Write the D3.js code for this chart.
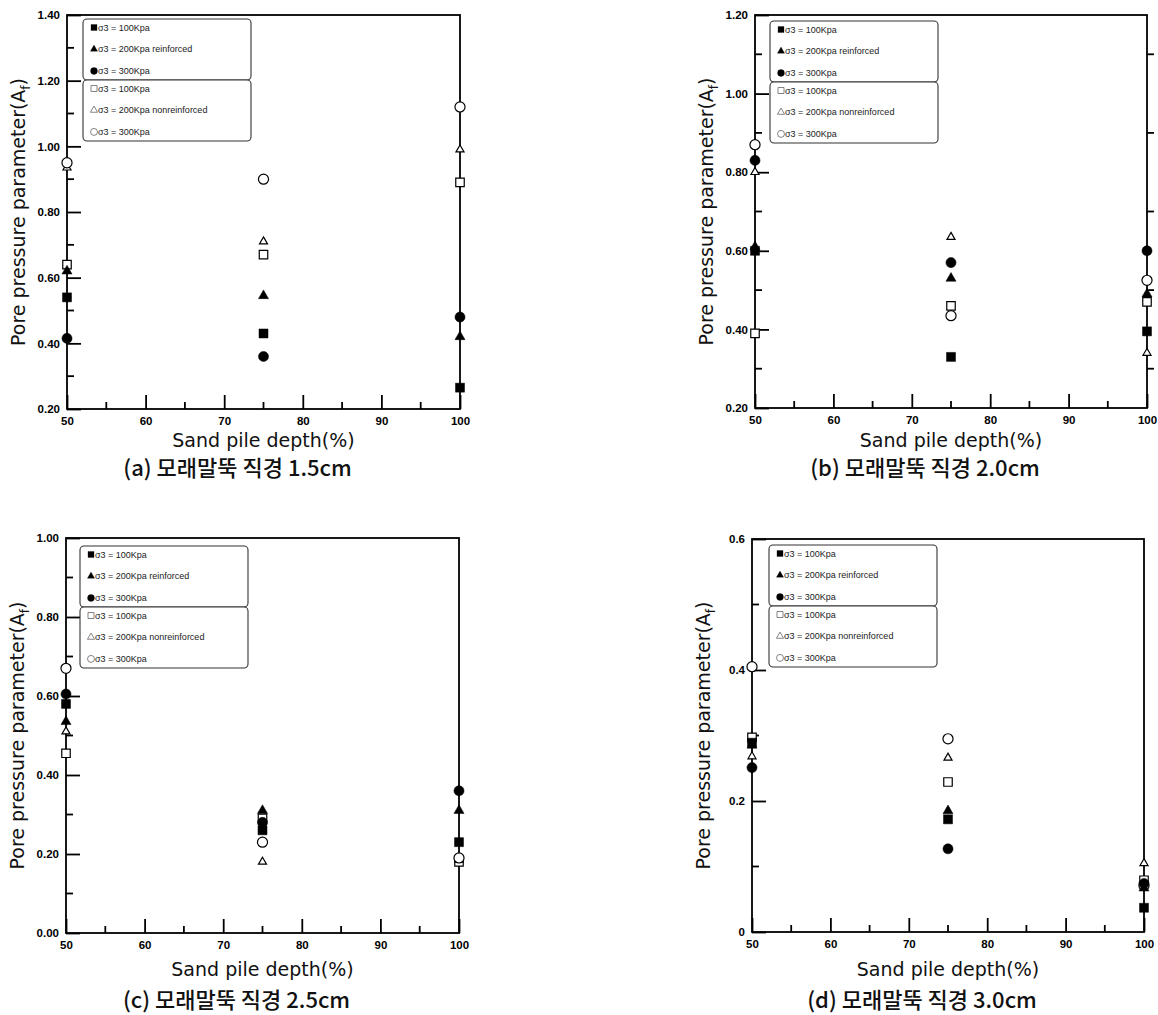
<!DOCTYPE html>
<html>
<head>
<meta charset="utf-8">
<script src="https://cdn.jsdelivr.net/npm/d3@7"></script>
<style>
  body { margin: 0; background: #fff; }
  svg { display: block; }
</style>
</head>
<body>
<div id="content"></div>
<script>
// x positions (sand pile depth %)
var depths = [50, 75, 100];

// legend labels, filled = reinforced, open = nonreinforced
var seriesNames = [
    "σ3 = 100Kpa",
    "σ3 = 200Kpa reinforced",
    "σ3 = 300Kpa",
    "σ3 = 100Kpa",
    "σ3 = 200Kpa nonreinforced",
    "σ3 = 300Kpa"
];
var seriesShapes = ["square", "triangle", "circle", "square", "triangle", "circle"];
var seriesFilled = [true, true, true, false, false, false];

var captions = [
    "(a) 모래말뚝 직경 1.5cm",
    "(b) 모래말뚝 직경 2.0cm",
    "(c) 모래말뚝 직경 2.5cm",
    "(d) 모래말뚝 직경 3.0cm"
];

var yDomains = [[0.2, 1.4], [0.2, 1.2], [0, 1.0], [0, 0.6]];
var yMajorTicks = [
    [0.2, 0.4, 0.6, 0.8, 1.0, 1.2, 1.4],
    [0.2, 0.4, 0.6, 0.8, 1.0, 1.2],
    [0, 0.2, 0.4, 0.6, 0.8, 1.0],
    [0, 0.2, 0.4, 0.6]
];
var yMinorTicks = [
    [0.3, 0.5, 0.7, 0.9, 1.1, 1.3],
    [0.3, 0.5, 0.7, 0.9, 1.1],
    [0.1, 0.3, 0.5, 0.7, 0.9],
    [0.1, 0.3, 0.5]
];
var yTickFormats = [".2f", ".2f", ".2f", "~g"];
var xMajorTicks = [50, 60, 70, 80, 90, 100];
var xMinorTicks = [55, 65, 75, 85, 95];

// values per series (same order as seriesNames), one per depth
var valuesA = [
    [0.54, 0.43, 0.265],
    [0.62, 0.545, 0.42],
    [0.415, 0.36, 0.48],
    [0.64, 0.67, 0.89],
    [0.935, 0.71, 0.99],
    [0.95, 0.90, 1.12]
];
var valuesB = [
    [0.60, 0.33, 0.395],
    [0.61, 0.53, 0.49],
    [0.83, 0.57, 0.60],
    [0.39, 0.46, 0.47],
    [0.80, 0.635, 0.34],
    [0.87, 0.435, 0.525]
];
var valuesC = [
    [0.58, 0.26, 0.23],
    [0.535, 0.31, 0.31],
    [0.605, 0.28, 0.36],
    [0.455, 0.29, 0.18],
    [0.51, 0.18, 0.185],
    [0.67, 0.23, 0.19]
];
var valuesD = [
    [0.289, 0.172, 0.037],
    [0.285, 0.185, 0.067],
    [0.251, 0.127, 0.074],
    [0.297, 0.229, 0.079],
    [0.268, 0.266, 0.105],
    [0.405, 0.295, 0.071]
];
var panelValues = [valuesA, valuesB, valuesC, valuesD];

// panel frames in page pixels
var panels = [
    {left: 67,  top: 15,  right: 460,  bottom: 409, titleDy: 38, capDy: 67, legX: 16, legY: 4, rightTicks: false},
    {left: 755, top: 15,  right: 1147, bottom: 408, titleDy: 39, capDy: 68, legX: 15, legY: 6, rightTicks: true},
    {left: 66,  top: 538, right: 459,  bottom: 933, titleDy: 43, capDy: 75, legX: 14, legY: 8, rightTicks: false},
    {left: 752, top: 539, right: 1144, bottom: 932, titleDy: 44, capDy: 76, legX: 17, legY: 6, rightTicks: false}
];

var W = 1158, H = 1015;
var major_len = 14, minor_len = 7;
var tick_font = "'Liberation Sans', Arial, sans-serif";
var title_font = "'DejaVu Sans', sans-serif";

var svg = d3.select("#content")
  .append("svg")
  .attr("width", W)
  .attr("height", H);

function symbolFor(shape, legend, filled) {
    var type = shape == "square" ? d3.symbolSquare : (shape == "triangle" ? d3.symbolTriangle : d3.symbolCircle);
    var size;
    if (legend) {
        size = shape == "square" ? 36 : (shape == "triangle" ? 22 : 38);
    } else if (shape == "square") {
        size = filled ? 81 : 72;
    } else if (shape == "triangle") {
        size = filled ? 44 : 28;
    } else {
        size = 80;
    }
    return d3.symbol().type(type).size(size)();
}

panels.forEach(function(p, k) {
    var x = d3.scaleLinear().domain([50, 100]).range([p.left, p.right]);
    var y = d3.scaleLinear().domain(yDomains[k]).range([p.bottom, p.top]);
    var g = svg.append("g");

    // frame
    g.append("rect")
      .attr("x", p.left).attr("y", p.top)
      .attr("width", p.right - p.left).attr("height", p.bottom - p.top)
      .attr("fill", "none").attr("stroke", "#000").attr("stroke-width", 1.8);

    // x ticks (inward)
    var xAxis = g.append("g").attr("transform", "translate(0," + p.bottom + ")")
      .call(d3.axisBottom(x).tickValues(xMajorTicks).tickSizeInner(-major_len).tickSizeOuter(0).tickPadding(8));
    xAxis.select(".domain").remove();
    xAxis.selectAll("line").attr("stroke-width", 1.8);
    xAxis.selectAll("text")
      .attr("font-family", tick_font)
      .attr("font-size", "11.5px").attr("font-weight", "bold").attr("fill", "#000");
    xMinorTicks.forEach(function(v) {
        g.append("line")
          .attr("x1", x(v)).attr("x2", x(v))
          .attr("y1", p.bottom).attr("y2", p.bottom - minor_len)
          .attr("stroke", "#000").attr("stroke-width", 1.8);
    });

    // y ticks (inward)
    var yAxis = g.append("g").attr("transform", "translate(" + p.left + ",0)")
      .call(d3.axisLeft(y).tickValues(yMajorTicks[k]).tickFormat(d3.format(yTickFormats[k]))
        .tickSizeInner(-major_len).tickSizeOuter(0).tickPadding(7));
    yAxis.select(".domain").remove();
    yAxis.selectAll("line").attr("stroke-width", 1.8);
    yAxis.selectAll("text")
      .attr("font-family", tick_font)
      .attr("font-size", "11.5px").attr("font-weight", "bold").attr("fill", "#000");
    yMinorTicks[k].forEach(function(v) {
        g.append("line")
          .attr("x1", p.left).attr("x2", p.left + minor_len)
          .attr("y1", y(v)).attr("y2", y(v))
          .attr("stroke", "#000").attr("stroke-width", 1.8);
        if (p.rightTicks) {
            g.append("line")
              .attr("x1", p.right).attr("x2", p.right + minor_len)
              .attr("y1", y(v)).attr("y2", y(v))
              .attr("stroke", "#000").attr("stroke-width", 1.8);
        }
    });

    // axis titles
    g.append("text")
      .attr("x", (p.left + p.right) / 2)
      .attr("y", p.bottom + p.titleDy)
      .attr("text-anchor", "middle")
      .attr("font-family", title_font)
      .attr("font-size", "19px")
      .attr("fill", "#111")
      .text("Sand pile depth(%)");

    var cy = (p.top + p.bottom) / 2, cx = p.left - 42;
    var yt = g.append("text")
      .attr("transform", "translate(" + cx + "," + cy + ") rotate(-90)")
      .attr("text-anchor", "middle")
      .attr("font-family", title_font)
      .attr("font-size", "19px")
      .attr("fill", "#111");
    yt.append("tspan").text("Pore pressure parameter(A");
    yt.append("tspan").attr("font-size", "12px").attr("dy", 5).text("f");
    yt.append("tspan").attr("dy", -5).text(")");

    // caption
    g.append("text")
      .attr("x", (p.left + p.right) / 2 - 26)
      .attr("y", p.bottom + p.capDy)
      .attr("text-anchor", "middle")
      .attr("font-family", "'Noto Sans CJK KR', sans-serif")
      .attr("font-size", "22px")
      .attr("font-weight", 500)
      .attr("fill", "#111")
      .text(captions[k]);

    // data points: open series first, filled on top
    var order = [3, 4, 5, 0, 1, 2];
    order.forEach(function(s) {
        panelValues[k][s].forEach(function(v, i) {
            g.append("path")
              .attr("d", symbolFor(seriesShapes[s], false, seriesFilled[s]))
              .attr("transform", "translate(" + x(depths[i]) + "," + y(v) + ")")
              .attr("fill", seriesFilled[s] ? "#000" : "#fff")
              .attr("stroke", "#000")
              .attr("stroke-width", seriesFilled[s] ? 0.5 : 1.2);
        });
    });

    // legend: two rounded boxes
    var lx = p.left + p.legX, ly = p.top + p.legY;
    var box_w = 168, box_h = 61, row = 21.7;
    [0, 1].forEach(function(b) {
        g.append("rect")
          .attr("x", lx).attr("y", ly + b * box_h)
          .attr("width", box_w).attr("height", box_h)
          .attr("rx", 4).attr("ry", 4)
          .attr("fill", "#fff").attr("stroke", "#333").attr("stroke-width", 1.1);
    });
    seriesNames.forEach(function(name, s) {
        var b = s < 3 ? 0 : 1;
        var ry = ly + b * box_h + 8.5 + (s % 3) * row;
        g.append("path")
          .attr("d", symbolFor(seriesShapes[s], true, seriesFilled[s]))
          .attr("transform", "translate(" + (lx + 11) + "," + ry + ")")
          .attr("fill", seriesFilled[s] ? "#000" : "#fff")
          .attr("stroke", seriesFilled[s] ? "#000" : "#666")
          .attr("stroke-width", seriesFilled[s] ? 0.3 : 0.8);
        g.append("text")
          .attr("x", lx + 15).attr("y", ry + 3.2)
          .attr("font-family", tick_font)
          .attr("font-size", "9px")
          .attr("fill", "#222")
          .text(name);
    });
});
</script>
</body>
</html>
